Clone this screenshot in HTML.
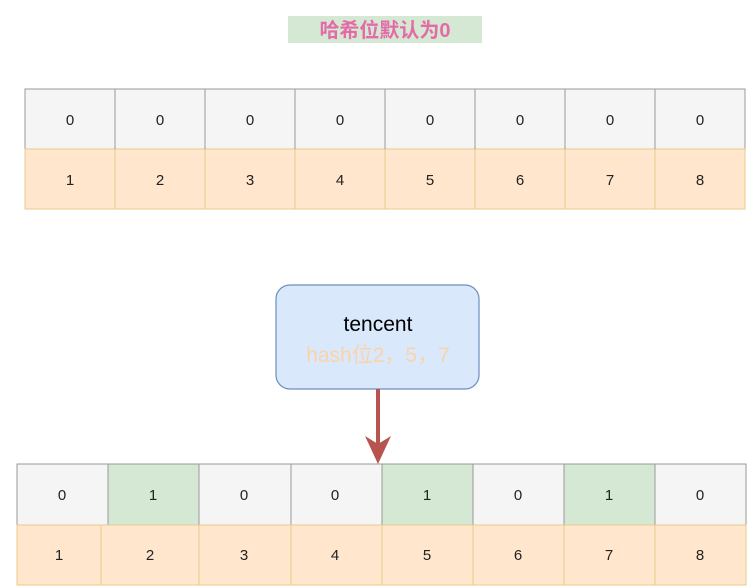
<!DOCTYPE html>
<html><head><meta charset="utf-8"><style>
html,body{margin:0;padding:0;background:#fff;width:751px;height:588px;overflow:hidden}
svg text{font-family:"Liberation Sans","Noto Sans CJK SC",sans-serif}
</style></head><body>
<svg width="751" height="588" viewBox="0 0 751 588" xmlns="http://www.w3.org/2000/svg">
<rect x="288" y="16" width="194" height="27" fill="#d5e8d4"/>
<text x="385" y="37" text-anchor="middle" font-size="20" fill="#e46ba8" font-weight="bold">哈希位默认为0</text>
<g font-size="15" text-anchor="middle" fill="#222">
<!-- top grid -->
<g id="top">
<rect x="25" y="89" width="720" height="60" fill="#f5f5f5" stroke="#999"/>
<rect x="25" y="149" width="720" height="60" fill="#ffe6cc" stroke="#e8cc8a"/>
</g>
<g stroke="#999"><line x1="115" y1="89" x2="115" y2="149"/><line x1="205" y1="89" x2="205" y2="149"/><line x1="295" y1="89" x2="295" y2="149"/><line x1="385" y1="89" x2="385" y2="149"/><line x1="475" y1="89" x2="475" y2="149"/><line x1="565" y1="89" x2="565" y2="149"/><line x1="655" y1="89" x2="655" y2="149"/></g>
<g stroke="#e8cc8a"><line x1="115" y1="149" x2="115" y2="209"/><line x1="205" y1="149" x2="205" y2="209"/><line x1="295" y1="149" x2="295" y2="209"/><line x1="385" y1="149" x2="385" y2="209"/><line x1="475" y1="149" x2="475" y2="209"/><line x1="565" y1="149" x2="565" y2="209"/><line x1="655" y1="149" x2="655" y2="209"/></g>
<text x="70" y="125">0</text><text x="160" y="125">0</text><text x="250" y="125">0</text><text x="340" y="125">0</text><text x="430" y="125">0</text><text x="520" y="125">0</text><text x="610" y="125">0</text><text x="700" y="125">0</text>
<text x="70" y="185">1</text><text x="160" y="185">2</text><text x="250" y="185">3</text><text x="340" y="185">4</text><text x="430" y="185">5</text><text x="520" y="185">6</text><text x="610" y="185">7</text><text x="700" y="185">8</text>

<!-- box -->
<rect x="276" y="285" width="203" height="104" rx="14" fill="#dae8fc" stroke="#6c8ebf" stroke-width="1.2"/>
<text x="378" y="331" font-size="21" fill="#000">tencent</text>
<text x="378" y="362" font-size="21" fill="#fbd3a8">hash位2，5，7</text>
<line x1="378" y1="389" x2="378" y2="444" stroke="#b85450" stroke-width="4"/>
<polygon points="365,436 378,444 391,436 378,464" fill="#b85450"/>

<!-- bottom grid -->
<rect x="17" y="464" width="729" height="61" fill="#f5f5f5" stroke="#999"/>
<rect x="108" y="464" width="91" height="61" fill="#d5e8d4" stroke="#999"/>
<rect x="382" y="464" width="91" height="61" fill="#d5e8d4" stroke="#999"/>
<rect x="564" y="464" width="91" height="61" fill="#d5e8d4" stroke="#999"/>
<g stroke="#999"><line x1="291" y1="464" x2="291" y2="525"/><line x1="199" y1="464" x2="199" y2="525"/><line x1="655" y1="464" x2="655" y2="525"/></g>
<rect x="17" y="525" width="729" height="60" fill="#ffe6cc" stroke="#e8cc8a"/>
<g stroke="#e8cc8a"><line x1="101" y1="525" x2="101" y2="585"/><line x1="199" y1="525" x2="199" y2="585"/><line x1="291" y1="525" x2="291" y2="585"/><line x1="382" y1="525" x2="382" y2="585"/><line x1="473" y1="525" x2="473" y2="585"/><line x1="564" y1="525" x2="564" y2="585"/><line x1="655" y1="525" x2="655" y2="585"/></g>
<text x="62" y="500">0</text><text x="153" y="500">1</text><text x="244" y="500">0</text><text x="335" y="500">0</text><text x="427" y="500">1</text><text x="518" y="500">0</text><text x="609" y="500">1</text><text x="700" y="500">0</text>
<text x="59" y="560">1</text><text x="150" y="560">2</text><text x="244" y="560">3</text><text x="335" y="560">4</text><text x="427" y="560">5</text><text x="518" y="560">6</text><text x="609" y="560">7</text><text x="700" y="560">8</text>
</g>
</svg>
</body></html>
